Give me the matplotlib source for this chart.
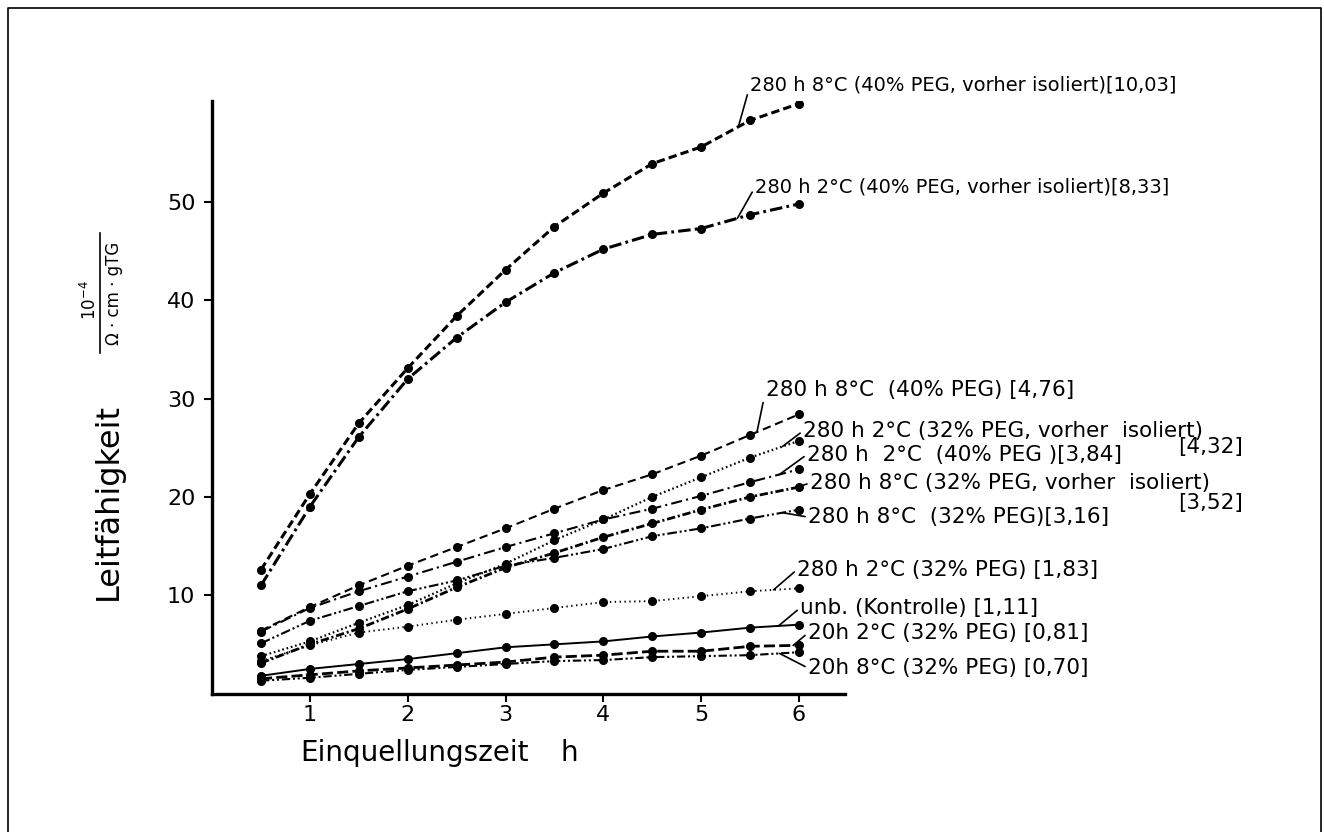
import matplotlib
matplotlib.use('Agg')
import matplotlib.pyplot as plt
from matplotlib.lines import Line2D
import numpy as np

plt.rcParams['font.family'] = 'DejaVu Sans'
plt.rcParams['lines.scale_dashes'] = False

W, H = 1324, 832

# Einquellungszeit in h
zeit = [0.5, 1, 1.5, 2, 2.5, 3, 3.5, 4, 4.5, 5, 5.5, 6]

# Leitfaehigkeit
peg40_iso_8 = [12.6, 20.3, 27.5, 33.1, 38.4, 43.1, 47.5, 50.9, 53.9, 55.6, 58.3, 60.0]
peg40_iso_2 = [11.0, 19.0, 26.1, 32.0, 36.2, 39.8, 42.8, 45.2, 46.7, 47.3, 48.7, 49.8]
peg40_8 = [6.4, 8.8, 11.0, 13.0, 14.9, 16.8, 18.8, 20.7, 22.3, 24.2, 26.3, 28.4]
peg32_iso_2 = [3.8, 5.3, 7.2, 9.0, 11.2, 13.2, 15.6, 17.7, 20.0, 22.0, 24.0, 25.7]
peg40_2 = [6.3, 8.7, 10.4, 11.9, 13.4, 14.9, 16.3, 17.7, 18.8, 20.1, 21.5, 22.8]
peg32_iso_8 = [3.1, 5.0, 6.6, 8.6, 10.8, 12.8, 14.3, 15.9, 17.3, 18.7, 20.0, 21.0]
peg32_8 = [5.1, 7.4, 8.9, 10.4, 11.5, 13.0, 13.8, 14.7, 16.0, 16.8, 17.8, 18.7]
peg32_2 = [3.3, 4.9, 6.2, 6.8, 7.5, 8.1, 8.7, 9.3, 9.4, 9.9, 10.4, 10.7]
kontrolle = [1.8, 2.5, 3.0, 3.5, 4.1, 4.7, 5.0, 5.3, 5.8, 6.2, 6.7, 7.0]
h20_2 = [1.5, 1.9, 2.3, 2.6, 2.9, 3.2, 3.7, 3.9, 4.3, 4.3, 4.8, 4.9]
h20_8 = [1.3, 1.6, 2.0, 2.4, 2.7, 3.0, 3.3, 3.4, 3.7, 3.8, 3.9, 4.2]

beschriftung = ['280 h 8°C (40% PEG, vorher isoliert)[10,03]',
                '280 h 2°C (40% PEG, vorher isoliert)[8,33]',
                '280 h 8°C  (40% PEG) [4,76]',
                '280 h 2°C (32% PEG, vorher  isoliert)',
                '280 h  2°C  (40% PEG )[3,84]',
                '280 h 8°C (32% PEG, vorher  isoliert)',
                '280 h 8°C  (32% PEG)[3,16]',
                '280 h 2°C (32% PEG) [1,83]',
                'unb. (Kontrolle) [1,11]',
                '20h 2°C (32% PEG) [0,81]',
                '20h 8°C (32% PEG) [0,70]']

reihen = [peg40_iso_8, peg40_iso_2, peg40_8, peg32_iso_2, peg40_2, peg32_iso_8,
          peg32_8, peg32_2, kontrolle, h20_2, h20_8]

# Linienarten (in Punkt)
stile = [(0, (6, 3)), (0, (9, 3, 2, 3)), (0, (6, 3.5)), (0, (1.2, 2)),
         (0, (8, 3, 1.5, 3)), (0, (6, 2, 1.5, 2)), (0, (7, 2, 1.5, 2, 1.5, 2)),
         (0, (1, 2.5)), '-', (0, (8, 3)), (0, (6, 2, 1.5, 2, 1.5, 2))]
breiten = [2.2, 2.2, 1.5, 1.6, 1.5, 2.0, 1.5, 1.4, 1.4, 2.0, 1.5]
schrift = [14, 14, 15.5, 15.5, 15.5, 15.5, 15.5, 15.5, 15.5, 15.5, 15.5]

# Textpositionen (Daten) und Stelle, an der der Hinweisstrich die Kurve trifft
text_pos = [(5.50, 61.9), (5.55, 51.5), (5.66, 30.9), (6.04, 26.7), (6.08, 24.3),
            (6.11, 21.4), (6.09, 17.95), (5.98, 12.6), (6.01, 8.7), (6.09, 6.15),
            (6.09, 2.6)]
strich_x = [5.38, 5.37, 5.57, 5.83, 5.80, 5.95, 5.83, 5.74, 5.79, 5.94, 5.80]

fig = plt.figure(figsize=(W / 100, H / 100), dpi=100)
ax = fig.add_axes([212.1 / W, 1 - 693.5 / H, (845 - 212.1) / W, (693.5 - 101) / H])

for werte, ls, lw in zip(reihen, stile, breiten):
    ax.plot(zeit, werte, color='black', linestyle=ls, linewidth=lw,
            marker='o', markersize=5.5, markerfacecolor='black', markeredgecolor='black')

for text, werte, (tx, ty), sx, fs in zip(beschriftung, reihen, text_pos, strich_x, schrift):
    sy = np.interp(sx, zeit, werte)
    ax.annotate(text, xy=(sx, sy), xytext=(tx, ty), textcoords='data',
                ha='left', va='center', fontsize=fs, annotation_clip=False,
                arrowprops=dict(arrowstyle='-', lw=1.2, color='black',
                                shrinkA=0, shrinkB=0, relpos=(0, 0.5)))

ax.text(9.88, 25.1, '[4,32]', fontsize=15.5, ha='left', va='center', clip_on=False)
ax.text(9.88, 19.4, '[3,52]', fontsize=15.5, ha='left', va='center', clip_on=False)

ax.set_xlim(0, 6.47)
ax.set_ylim(0, 60.27)
ax.set_xticks([1, 2, 3, 4, 5, 6])
ax.set_yticks([10, 20, 30, 40, 50])
ax.tick_params(direction='out', length=6, width=1.5, labelsize=16)
ax.tick_params(axis='x', pad=2)
ax.tick_params(axis='y', pad=6)
for s in ['top', 'right']:
    ax.spines[s].set_visible(False)
for s in ['left', 'bottom']:
    ax.spines[s].set_linewidth(2.4)

# Achsenbeschriftungen
fig.text(300.6 / W, 1 - 753 / H, 'Einquellungszeit', fontsize=20, ha='left', va='center')
fig.text(569 / W, 1 - 753 / H, 'h', fontsize=20, ha='center', va='center')
fig.text(108 / W, 1 - 501 / H, 'Leitfähigkeit', fontsize=23, rotation=90,
         ha='center', va='center')
fig.text(90 / W, 1 - 300 / H, r'10$^{-4}$', fontsize=12, rotation=90, ha='center', va='center')
fig.add_artist(Line2D([100 / W, 100 / W], [1 - 233 / H, 1 - 353 / H], color='black', lw=1.2))
fig.text(114 / W, 1 - 293 / H, 'Ω · cm · gTG', fontsize=12, rotation=90, ha='center', va='center')

# Rahmen
fig.add_artist(Line2D([8 / W, 8 / W, 1321 / W, 1321 / W], [0, 1 - 8 / H, 1 - 8 / H, 0],
                      color='black', lw=1.2))

fig.savefig('out.png', dpi=100)
